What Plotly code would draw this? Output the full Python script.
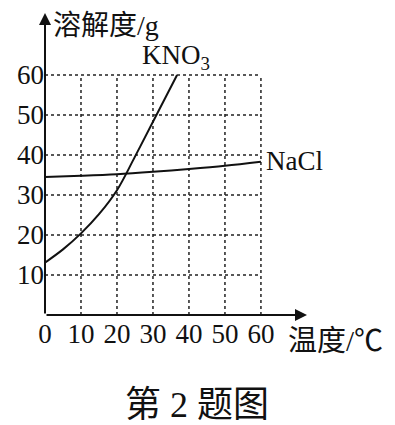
import plotly.graph_objects as go

# data
temps_kno3 = [0, 5, 10, 15, 20, 25, 30, 36.7]
sol_kno3 = [13.1, 16.4, 20.4, 25.2, 31.2, 39.6, 48.3, 60.0]
temps_nacl = [0, 10, 20, 30, 40, 50, 60]
sol_nacl = [34.5, 34.8, 35.2, 35.8, 36.5, 37.3, 38.3]
x_ticks = [0, 10, 20, 30, 40, 50, 60]
y_ticks = [10, 20, 30, 40, 50, 60]

SERIF = "Liberation Serif, Noto Sans CJK SC"
XMAX = 72.8
YMAX = 75.5

fig = go.Figure()
fig.add_trace(go.Scatter(x=temps_kno3, y=sol_kno3, mode="lines",
                         line=dict(color="#111", width=2, shape="spline", smoothing=1.0),
                         hoverinfo="skip", showlegend=False))
fig.add_trace(go.Scatter(x=temps_nacl, y=sol_nacl, mode="lines",
                         line=dict(color="#111", width=2, shape="spline"),
                         hoverinfo="skip", showlegend=False))

shapes = []
for xv in x_ticks[1:]:
    shapes.append(dict(type="line", xref="x", yref="y", x0=xv, x1=xv, y0=0, y1=y_ticks[-1],
                       line=dict(color="#222", width=1.5, dash="dot"), layer="below"))
for yv in y_ticks:
    shapes.append(dict(type="line", xref="x", yref="y", x0=0, x1=x_ticks[-1], y0=yv, y1=yv,
                       line=dict(color="#222", width=1.5, dash="dot"), layer="below"))

annotations = [
    # axes arrows
    dict(x=XMAX, y=0, ax=0, ay=0, xref="x", yref="y", axref="x", ayref="y", text="",
         showarrow=True, arrowhead=2, arrowsize=1.2, arrowwidth=2, arrowcolor="#111"),
    dict(x=0, y=YMAX, ax=0, ay=0, xref="x", yref="y", axref="x", ayref="y", text="",
         showarrow=True, arrowhead=2, arrowsize=1.2, arrowwidth=2, arrowcolor="#111"),
    dict(x=1.8, y=72.3, xref="x", yref="y", text="溶解度/g", showarrow=False,
         xanchor="left", yanchor="middle", font=dict(family=SERIF, size=28, color="#111")),
    dict(x=(286 - 45) / 262, y=(315 - 341) / 302, xref="paper", yref="paper", text="温度/℃",
         showarrow=False, xanchor="left", yanchor="middle",
         font=dict(family=SERIF, size=29, color="#111")),
    dict(x=36.3, y=64.6, xref="x", yref="y", text="KNO<sub>3</sub>", showarrow=False,
         xanchor="center", yanchor="middle", font=dict(family=SERIF, size=27, color="#111")),
    dict(x=60.9, y=38.6, xref="x", yref="y", text="NaCl", showarrow=False,
         xanchor="left", yanchor="middle", font=dict(family=SERIF, size=27, color="#111")),
    dict(x=(196.5 - 45) / 262, y=(315 - 405) / 302, xref="paper", yref="paper",
         text="第 2 题图", showarrow=False,
         xanchor="center", yanchor="middle", font=dict(family=SERIF, size=36, color="#111")),
]

fig.update_layout(
    width=395, height=425,
    margin=dict(l=45, r=88, t=13, b=110),
    paper_bgcolor="white", plot_bgcolor="white",
    shapes=shapes, annotations=annotations,
    xaxis=dict(range=[0, XMAX], tickvals=x_ticks, ticktext=[str(v) for v in x_ticks],
               showgrid=False, zeroline=False, showline=False, ticks="",
               tickfont=dict(family=SERIF, size=27, color="#111")),
    yaxis=dict(range=[0, YMAX], tickvals=y_ticks, ticktext=[str(v) for v in y_ticks],
               showgrid=False, zeroline=False, showline=False, ticks="",
               tickfont=dict(family=SERIF, size=27, color="#111")),
)

fig.write_html("out.html")
